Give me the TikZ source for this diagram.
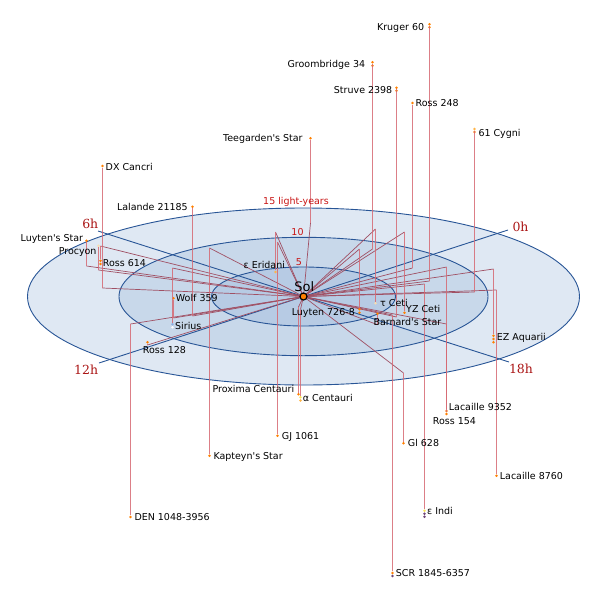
\documentclass[tikz,border=0pt]{standalone}
\usepackage{fontspec}
\setmainfont{DejaVu Sans}[Ligatures=TeXOff]
\newfontfamily\hourfont{DejaVu Serif}
\usepackage{tikz}
\usetikzlibrary{positioning}
\definecolor{diskouter}{RGB}{223,232,243}
\definecolor{diskmiddle}{RGB}{200,216,234}
\definecolor{diskinner}{RGB}{183,203,228}
\definecolor{ringblue}{RGB}{40,85,150}
\definecolor{radmauve}{RGB}{160,80,100}
\definecolor{vertred}{RGB}{214,104,114}
\definecolor{hourred}{RGB}{170,20,20}
\definecolor{ringred}{RGB}{200,20,20}
\definecolor{starorange}{RGB}{255,128,0}
\definecolor{starlight}{RGB}{255,180,70}
\definecolor{starpale}{RGB}{247,222,178}
\definecolor{starblue}{RGB}{140,175,225}
\definecolor{staryellow}{RGB}{250,228,90}
\definecolor{starpurple}{RGB}{110,70,120}

\begin{document}
\begin{tikzpicture}[x=1pt,y=-1pt,
    stardot/.style={circle,fill=starorange,inner sep=0pt,minimum size=2.8pt},
    lbl/.style={font=\fontsize{9.5}{11}\selectfont,inner sep=0pt},
    vline/.style={draw=vertred,line width=1pt,opacity=0.85},
    rline/.style={draw=radmauve,line width=0.7pt},
    ring/.style={draw=ringblue,line width=0.9pt},
    hourlbl/.style={font=\hourfont\fontsize{12.5}{14}\selectfont,text=hourred,inner sep=0pt},
    ringlbl/.style={font=\fontsize{9.5}{11}\selectfont,text=ringred,inner sep=0pt}]
    \useasboundingbox (0,0) rectangle (600,600);

    % the plane
    \coordinate (sol) at (303.5,296.5);
    \draw[ring,fill=diskouter] (sol) ellipse [x radius=276,y radius=88.5];
    \draw[ring,fill=diskmiddle] (sol) ellipse [x radius=184.5,y radius=59.2];
    \draw[ring,fill=diskinner] (sol) ellipse [x radius=92,y radius=29.5];

    % hour axes
    \coordinate (h0) at (508,230);
    \coordinate (h12) at (99,363);
    \coordinate (h6) at (98,231);
    \coordinate (h18) at (509,362);
    \draw[ring] (h12) -- (h0);
    \draw[ring] (h6) -- (h18);
    \node[hourlbl,anchor=base] (h0-l) at (520.5,231.3) {0h};
    \node[hourlbl,anchor=base] (h6-l) at (90.3,228.6) {6h};
    \node[hourlbl,anchor=base] (h12-l) at (86.2,374) {12h};
    \node[hourlbl,anchor=base] (h18-l) at (521,373.6) {18h};

    % feet on the plane
    \coordinate (kruger-f) at (429.5,281);
    \coordinate (groom-f) at (372.5,249);
    \coordinate (struve-f) at (396.5,317);
    \coordinate (ross248-f) at (412.5,268);
    \coordinate (cygni-f) at (474.5,292);
    \coordinate (teeg-f) at (310.5,223);
    \coordinate (dxcnc-f) at (102.5,288);
    \coordinate (lalande-f) at (192.5,316);
    \coordinate (luyten-f) at (86.5,266);
    \coordinate (procyon-f) at (98.5,270);
    \coordinate (ross614-f) at (100.5,246);
    \coordinate (eeri-f) at (275.5,232);
    \coordinate (gj1061-f) at (277.5,242);
    \coordinate (wolf-f) at (173.5,318);
    \coordinate (sirius-f) at (172.5,268);
    \coordinate (ross128-f) at (147.5,345);
    \coordinate (prox-f) at (298.5,307);
    \coordinate (acen-f) at (300.5,309.5);
    \coordinate (kapteyn-f) at (209.5,248);
    \coordinate (den-f) at (130.5,324);
    \coordinate (gl628-f) at (403.5,373);
    \coordinate (scr-f) at (392.5,315);
    \coordinate (eind-f) at (424.5,284);
    \coordinate (lac8760-f) at (496.5,290);
    \coordinate (lac9352-f) at (446.5,267);
    \coordinate (ross154-f) at (446.5,324);
    \coordinate (ezaqr-f) at (493.5,269);
    \coordinate (barnard-f) at (377.5,324.7);
    \coordinate (tceti-f) at (375.5,229);
    \coordinate (yzceti-f) at (404.5,232);
    \coordinate (l726-f) at (359.5,249);

    % lines from Sol along the plane
    \foreach \f in {kruger,groom,struve,ross248,cygni,teeg,dxcnc,lalande,luyten,procyon,
        ross614,eeri,gj1061,wolf,sirius,ross128,prox,acen,kapteyn,den,gl628,scr,eind,
        lac8760,lac9352,ross154,ezaqr,barnard,tceti,yzceti,l726}
        \draw[rline] (sol) -- (\f-f);

    % stars
    \node[stardot] (kruger) at (429.5,24.3) {};
    \node[stardot] (kruger-b) at (429.5,27.3) {};
    \node[stardot] (groom) at (372.5,62.3) {};
    \node[stardot] (groom-b) at (372.5,65.7) {};
    \node[stardot] (struve) at (396.5,87.7) {};
    \node[stardot] (struve-b) at (396.5,90.7) {};
    \node[stardot] (ross248) at (412.5,103) {};
    \node[stardot,fill=starlight] (cygni) at (474.5,129) {};
    \node[stardot] (cygni-b) at (474.5,132) {};
    \node[stardot] (teeg) at (310.5,138.3) {};
    \node[stardot] (dxcnc) at (102.5,166) {};
    \node[stardot] (lalande) at (192.5,206.7) {};
    \node[stardot] (luyten) at (86.5,240.7) {};
    \node[stardot,fill=starpale] (procyon) at (98.5,245.7) {};
    \node[stardot] (ross614) at (100.5,260.7) {};
    \node[stardot] (ross614-b) at (100.5,264) {};
    \node[stardot,fill=starlight] (eeri) at (275.5,272) {};
    \node[stardot] (gj1061) at (277.5,435.7) {};
    \node[stardot] (wolf) at (173.5,298.3) {};
    \node[stardot,fill=starblue] (sirius) at (172.5,324.3) {};
    \node[stardot,fill=white] (sirius-b) at (172.5,327.3) {};
    \node[stardot] (ross128) at (147.5,342.3) {};
    \node[stardot] (prox) at (298.5,394.3) {};
    \node[stardot,fill=staryellow] (acen) at (300.5,397.3) {};
    \node[stardot,fill=starlight] (acen-b) at (300.5,400.5) {};
    \node[stardot] (kapteyn) at (209.5,455.7) {};
    \node[stardot] (den) at (130.5,517) {};
    \node[stardot] (gl628) at (403.5,443.3) {};
    \node[stardot] (scr) at (392.5,573) {};
    \node[stardot,fill=starpurple] (scr-b) at (392.5,576) {};
    \node[stardot,fill=staryellow] (eind) at (424.5,510.7) {};
    \node[stardot,fill=starpurple] (eind-b) at (424.5,513.7) {};
    \node[stardot,fill=starpurple] (eind-c) at (424.5,516.7) {};
    \node[stardot] (lac8760) at (496.5,475.7) {};
    \node[stardot] (lac9352) at (446.5,411) {};
    \node[stardot] (ross154) at (446.5,414) {};
    \node[stardot] (ezaqr) at (493.5,335.7) {};
    \node[stardot] (ezaqr-b) at (493.5,339) {};
    \node[stardot] (ezaqr-c) at (493.5,342.3) {};
    \node[stardot] (barnard) at (377.5,313.7) {};
    \node[stardot,fill=starpale] (tceti) at (375.5,303.3) {};
    \node[stardot] (yzceti) at (404.5,312.7) {};
    \node[stardot] (l726) at (359.5,309.3) {};
    \node[stardot] (l726-b) at (359.5,312.7) {};

    % drop lines
    \foreach \f in {kruger,groom,struve,ross248,cygni,teeg,dxcnc,lalande,luyten,procyon,
        ross614,eeri,gj1061,wolf,sirius,ross128,prox,acen,kapteyn,den,gl628,scr,eind,
        lac8760,lac9352,ross154,ezaqr,barnard,tceti,yzceti,l726}
        \draw[vline] (\f-f) -- (\f);

    % Sol
    \node[circle,fill=starorange,draw=black,line width=1.2pt,inner sep=0pt,minimum size=7pt] (sun) at (sol) {};
    \node[font=\fontsize{13}{15}\selectfont,anchor=base,inner sep=0pt] (sun-l) at (304.3,291.7) {Sol};

    % distance labels
    \node[ringlbl,anchor=base] (r15) at (296,204.5) {15 light-years};
    \node[ringlbl,anchor=base] (r10) at (297.5,235.2) {10};
    \node[ringlbl,anchor=base] (r5) at (299,265.2) {5};

    % star names
    \node[lbl,anchor=base east] (kruger-l) at (424.3,30.2) {Kruger 60};
    \node[lbl,anchor=base east] (groom-l) at (365.3,67.8) {Groombridge 34};
    \node[lbl,anchor=base east] (struve-l) at (392.5,93.2) {Struve 2398};
    \node[lbl,anchor=base west] (ross248-l) at (415.5,106.2) {Ross 248};
    \node[lbl,anchor=base west] (cygni-l) at (478.3,136.2) {61 Cygni};
    \node[lbl,anchor=base east] (teeg-l) at (302.8,141.2) {Teegarden's Star};
    \node[lbl,anchor=base west] (dxcnc-l) at (105.5,170) {DX Cancri};
    \node[lbl,anchor=base east] (lalande-l) at (188,210.2) {Lalande 21185};
    \node[lbl,anchor=base east] (luyten-l) at (83.3,241.2) {Luyten's Star};
    \node[lbl,anchor=base east] (procyon-l) at (96.7,254.2) {Procyon};
    \node[lbl,anchor=base west] (ross614-l) at (102.7,266.2) {Ross 614};
    \node[lbl,anchor=base west] (eeri-l) at (243.5,268.5) {ε Eridani};
    \node[lbl,anchor=base west] (wolf-l) at (175.7,301.8) {Wolf 359};
    \node[lbl,anchor=base west] (sirius-l) at (175,329.2) {Sirius};
    \node[lbl,anchor=base west] (ross128-l) at (142.7,353.5) {Ross 128};
    \node[lbl,anchor=base east] (l726-l) at (355,315.2) {Luyten 726-8};
    \node[lbl,anchor=base west] (tceti-l) at (380,306.8) {τ Ceti};
    \node[lbl,anchor=base west] (yzceti-l) at (406,312.8) {YZ Ceti};
    \node[lbl,anchor=base west] (barnard-l) at (373.3,325.2) {Barnard's Star};
    \node[lbl,anchor=base west] (ezaqr-l) at (496.7,340.2) {EZ Aquarii};
    \node[lbl,anchor=base west] (prox-l) at (212.3,392.5) {Proxima Centauri};
    \node[lbl,anchor=base west] (acen-l) at (302.7,401.2) {α Centauri};
    \node[lbl,anchor=base west] (gj1061-l) at (281.7,439.2) {GJ 1061};
    \node[lbl,anchor=base west] (kapteyn-l) at (213.3,459.2) {Kapteyn's Star};
    \node[lbl,anchor=base west] (den-l) at (134.3,520.8) {DEN 1048-3956};
    \node[lbl,anchor=base west] (lac9352-l) at (448.7,410.2) {Lacaille 9352};
    \node[lbl,anchor=base west] (ross154-l) at (432.7,424.2) {Ross 154};
    \node[lbl,anchor=base west] (gl628-l) at (407.7,446.8) {Gl 628};
    \node[lbl,anchor=base west] (lac8760-l) at (499.7,479.2) {Lacaille 8760};
    \node[lbl,anchor=base west] (eind-l) at (427,514.2) {ε Indi};
    \node[lbl,anchor=base west] (scr-l) at (395.7,576.8) {SCR 1845-6357};
\end{tikzpicture}
\end{document}
